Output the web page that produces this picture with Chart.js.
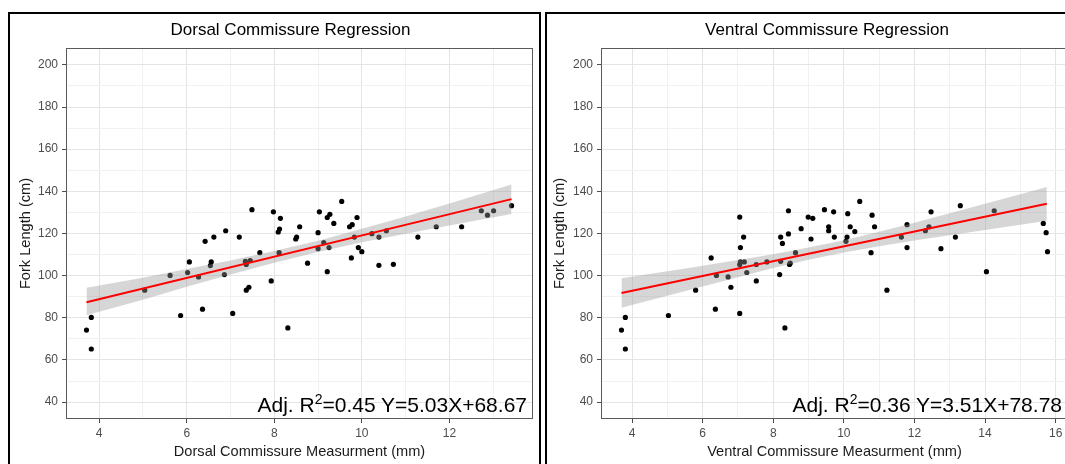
<!DOCTYPE html>
<html lang="en">
<head>
<meta charset="utf-8">
<title>Commissure Regression</title>
<script src="https://cdn.jsdelivr.net/npm/chart.js@4.4.1/dist/chart.umd.min.js"></script>
<style>
    html, body { margin: 0; padding: 0; background: #fff; }
    body { position: relative; width: 1065px; height: 464px; overflow: hidden; font-family: 'Liberation Sans', Arial, sans-serif; }
    .panel { position: absolute; top: 12px; height: 470px; border: 2px solid #000; box-sizing: border-box; }
    #panelDorsal { left: 8px; width: 533px; }
    #panelVentral { left: 545px; width: 540px; }
    canvas { position: absolute; top: 14px; }
    #DorsalChart { left: 10px; }
    #VentralChart { left: 547px; }
    .titulo { position: absolute; top: 20px; font-size: 17px; line-height: 20px; color: #000; white-space: nowrap; transform: translateX(-50%); }
    .ecuacion { position: absolute; top: 393px; font-size: 21px; line-height: 24px; color: #000; white-space: nowrap; }
    .ecuacion sup { font-size: 14px; line-height: 0; vertical-align: 8px; }
</style>
</head>
<body>
<div class="panel" id="panelDorsal"></div>
<div class="panel" id="panelVentral"></div>
<canvas id="DorsalChart" width="528" height="450"></canvas>
<canvas id="VentralChart" width="526" height="450"></canvas>
<div class="titulo" style="left:290.5px">Dorsal Commissure Regression</div>
<div class="titulo" style="left:827px">Ventral Commissure Regression</div>
<div class="ecuacion" style="right:538px">Adj. R<sup>2</sup>=0.45 Y=5.03X+68.67</div>
<div class="ecuacion" style="right:3px">Adj. R<sup>2</sup>=0.36 Y=3.51X+78.78</div>

<script>
//Datos Dorsal (mm, cm)
var dorsalX = [3.71, 3.82, 3.82, 5.04, 5.62, 5.86, 6.02, 6.06, 6.27, 6.36,
    6.42, 6.54, 6.56, 6.62, 6.86, 6.89, 7.05, 7.20, 7.34, 7.36,
    7.36, 7.42, 7.45, 7.49, 7.67, 7.93, 7.98, 8.09, 8.12, 8.14,
    8.11, 8.31, 8.49, 8.51, 8.58, 8.76, 9.00, 9.03, 9.00, 9.13,
    9.21, 9.21, 9.25, 9.27, 9.36, 9.54, 9.72, 9.78, 9.76, 9.83,
    9.89, 9.92, 10.00, 10.23, 10.39, 10.39, 10.56, 10.72, 11.28, 11.70,
    12.28, 12.73, 12.87, 13.01, 13.42];
var dorsalY = [74.2, 80.2, 65.2, 93.1, 100.1, 81.1, 101.5, 106.5, 99.4, 84.1,
    116.3, 104.8, 106.5, 118.3, 100.5, 121.3, 82.1, 118.3, 106.8, 93.1,
    105.3, 94.5, 107.2, 131.3, 110.9, 97.5, 130.3, 120.7, 122.1, 127.2,
    110.9, 75.2, 117.4, 118.3, 123.2, 105.9, 120.4, 130.3, 112.8, 115.7,
    101.9, 127.6, 113.3, 129.1, 124.8, 135.2, 123.2, 124.2, 108.4, 118.3,
    127.6, 113.3, 111.4, 119.9, 118.3, 104.9, 121.3, 105.4, 118.3, 123.2,
    123.2, 130.8, 128.7, 130.8, 133.2];
var dorsalAjusteX = [3.71, 13.42];
var dorsalAjusteY = [87.4, 136.3];
var dorsalBandaX = [3.71, 5, 6, 7, 8, 9, 10, 11, 12, 13.42];
var dorsalBandaSup = [94.3, 99.0, 103.1, 107.2, 111.7, 116.6, 122.2, 128.1, 134.2, 143.3];
var dorsalBandaInf = [81.2, 88.6, 94.7, 100.6, 106.1, 111.2, 115.8, 119.9, 123.8, 129.2];

//Datos Ventral (mm, cm)
var ventralX = [3.70, 3.81, 3.81, 5.03, 5.80, 6.24, 6.36, 6.39, 6.72, 6.80,
    7.05, 7.05, 7.07, 7.05, 7.07, 7.16, 7.18, 7.25, 7.52, 7.52,
    7.82, 8.18, 8.21, 8.21, 8.26, 8.33, 8.43, 8.43, 8.46, 8.48,
    8.63, 8.79, 8.99, 9.07, 9.12, 9.45, 9.57, 9.57, 9.71, 9.73,
    10.06, 10.09, 10.11, 10.18, 10.31, 10.45, 10.77, 10.80, 10.87, 11.22,
    11.63, 11.79, 11.79, 12.31, 12.41, 12.47, 12.75, 13.16, 13.30, 14.04,
    14.26, 15.65, 15.73, 15.77];
var ventralY = [74.2, 80.2, 65.2, 81.1, 93.1, 108.4, 84.1, 100.1, 99.4, 94.5,
    127.8, 82.1, 113.3, 105.3, 106.5, 118.3, 106.5, 101.5, 105.3, 97.5,
    106.5, 100.5, 118.3, 106.8, 115.3, 75.2, 130.8, 119.8, 105.3, 105.9,
    110.9, 122.3, 127.8, 117.4, 127.2, 131.3, 123.2, 121.3, 130.3, 118.3,
    116.3, 118.3, 129.4, 123.2, 120.9, 135.2, 110.9, 128.7, 123.2, 93.1,
    118.3, 124.2, 113.3, 121.3, 123.2, 130.3, 112.8, 118.3, 133.2, 101.9,
    130.8, 124.8, 120.4, 111.4];
var ventralAjusteX = [3.70, 15.75];
var ventralAjusteY = [91.8, 134.1];
var ventralBandaX = [3.70, 5, 6, 7, 8, 9, 10, 11, 12, 13, 14, 15, 15.75];
var ventralBandaSup = [98.8, 102.1, 104.7, 107.4, 110.2, 113.3, 116.8, 120.8, 125.1, 129.6, 134.1, 138.6, 142.1];
var ventralBandaInf = [84.8, 90.5, 94.9, 99.3, 103.6, 107.5, 111.0, 114.0, 116.7, 119.2, 121.7, 124.2, 126.1];

Chart.defaults.font.family = "'Liberation Sans', Arial, sans-serif";

function puntos(xs, ys) {
    return xs.map(function (x, i) { return { x: x, y: ys[i] }; });
}

// borde gris alrededor del panel (como theme_bw)
var marcoPanel = {
    id: 'marcoPanel',
    afterDraw: function (chart) {
        var a = chart.chartArea;
        var ctx = chart.ctx;
        ctx.save();
        ctx.strokeStyle = '#5a5a5a';
        ctx.lineWidth = 1;
        ctx.strokeRect(a.left + 0.5, a.top + 0.5, a.right - a.left - 1, a.bottom - a.top - 1);
        ctx.restore();
    }
};

function colorGrid(paso) {
    return function (c) {
        return c.tick && c.tick.value % paso === 0 ? '#e4e4e4' : '#f1f1f1';
    };
}

function colorMarca(paso) {
    return function (c) {
        return c.tick && c.tick.value % paso === 0 ? '#4d4d4d' : 'rgba(0,0,0,0)';
    };
}

function etiqueta(paso) {
    return function (v) { return v % paso === 0 ? v : ''; };
}

function crearGrafico(id, cfg) {
    var ctx = document.getElementById(id).getContext('2d');

    return new Chart(ctx, {
        type: 'scatter',
        data: {
            datasets: [{
                label: 'Ajuste',
                data: puntos(cfg.ajusteX, cfg.ajusteY),
                showLine: true,
                borderColor: '#ff0000',
                borderWidth: 2,
                pointRadius: 0,
                order: 1
            },
            {
                label: 'IC superior',
                data: puntos(cfg.bandaX, cfg.bandaSup),
                showLine: true,
                borderColor: 'rgba(0,0,0,0)',
                borderWidth: 0,
                pointRadius: 0,
                fill: false,
                order: 2
            },
            {
                label: 'IC inferior',
                data: puntos(cfg.bandaX, cfg.bandaInf),
                showLine: true,
                borderColor: 'rgba(0,0,0,0)',
                borderWidth: 0,
                backgroundColor: 'rgba(153, 153, 153, 0.4)',
                pointRadius: 0,
                fill: '-1',
                order: 2
            },
            {
                label: 'Observaciones',
                data: puntos(cfg.x, cfg.y),
                pointRadius: 2.6,
                pointBackgroundColor: '#000',
                pointBorderWidth: 0,
                order: 3
            }]
        },
        options: {
            responsive: false,
            animation: false,
            events: [],
            layout: {
                padding: { top: 34, right: 5, left: 0, bottom: 0 }
            },
            plugins: {
                legend: { display: false },
                tooltip: { enabled: false }
            },
            scales: {
                x: {
                    type: 'linear',
                    min: cfg.xMin,
                    max: cfg.xMax,
                    afterFit: function (s) { s.height = 45; },
                    border: { display: false },
                    grid: {
                        color: colorGrid(2),
                        tickColor: colorMarca(2),
                        tickLength: 4,
                        lineWidth: 1
                    },
                    ticks: {
                        stepSize: 1,
                        includeBounds: false,
                        autoSkip: false,
                        maxRotation: 0,
                        padding: 3,
                        color: '#4d4d4d',
                        font: { size: 12 },
                        callback: etiqueta(2)
                    },
                    title: {
                        display: true,
                        text: cfg.tituloX,
                        color: '#1a1a1a',
                        font: { size: 14.6 },
                        padding: { top: 0, bottom: 3.2 }
                    }
                },
                y: {
                    type: 'linear',
                    min: 32,
                    max: 208,
                    afterFit: function (s) { s.width = cfg.anchoY; },
                    border: { display: false },
                    grid: {
                        color: colorGrid(20),
                        tickColor: colorMarca(20),
                        tickLength: 4,
                        lineWidth: 1
                    },
                    ticks: {
                        stepSize: 10,
                        includeBounds: false,
                        autoSkip: false,
                        padding: 4,
                        color: '#4d4d4d',
                        font: { size: 12 },
                        callback: etiqueta(20)
                    },
                    title: {
                        display: true,
                        text: 'Fork Length (cm)',
                        color: '#1a1a1a',
                        font: { size: 14.6 },
                        padding: { top: cfg.padTituloY, bottom: 0 }
                    }
                }
            }
        },
        plugins: [marcoPanel]
    });
}

document.addEventListener('DOMContentLoaded', function () {
    //Grafico Dorsal
    var dorsalChart = crearGrafico('DorsalChart', {
        x: dorsalX, y: dorsalY,
        ajusteX: dorsalAjusteX, ajusteY: dorsalAjusteY,
        bandaX: dorsalBandaX, bandaSup: dorsalBandaSup, bandaInf: dorsalBandaInf,
        xMin: 3.242, xMax: 13.91,
        anchoY: 56, padTituloY: 7.3,
        tituloX: 'Dorsal Commissure Measurment (mm)'
    });

    //Grafico Ventral
    var ventralChart = crearGrafico('VentralChart', {
        x: ventralX, y: ventralY,
        ajusteX: ventralAjusteX, ajusteY: ventralAjusteY,
        bandaX: ventralBandaX, bandaSup: ventralBandaSup, bandaInf: ventralBandaInf,
        xMin: 3.12, xMax: 16.35,
        anchoY: 54, padTituloY: 4.6,
        tituloX: 'Ventral Commissure Measurment (mm)'
    });
});
</script>
</body>
</html>
